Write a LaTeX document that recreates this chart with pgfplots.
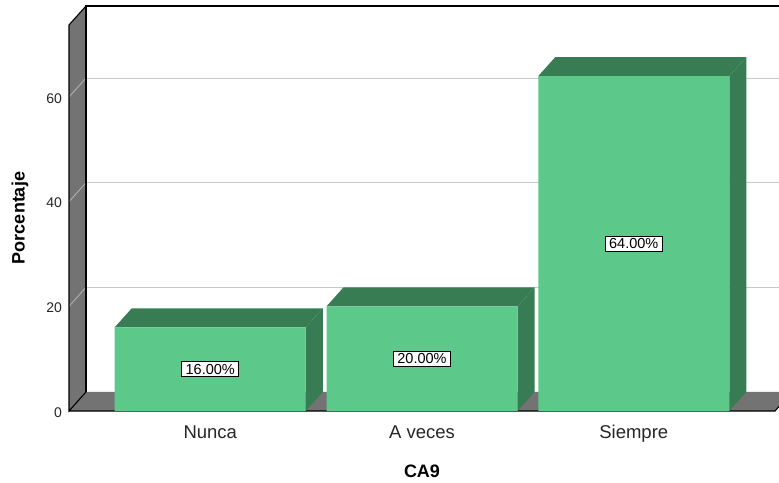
\documentclass[border=0pt]{standalone}
\usepackage{fontspec}
\setmainfont{Liberation Sans}
\usepackage{pgfplots}
\usepackage{pgfplotstable}
\pgfplotsset{compat=1.18}
\definecolor{barfront}{RGB}{92,201,139}
\definecolor{bardark}{RGB}{56,124,84}
\definecolor{wallgray}{RGB}{115,115,115}
\definecolor{gridgray}{RGB}{200,200,200}
\definecolor{gridwall}{RGB}{175,175,175}

\pgfplotstableread{
x y
0 16
1 20
2 64
}\bardata

\def\dX{0.0803}
\def\dY{3.631}
\def\hw{0.451}
\def\XMIN{-0.667}
\def\XMAX{2.667}
\def\YMAX{73.76}
\def\XMINb{-0.5867}
\def\XMAXb{2.7473}
\def\YMAXb{77.391}

\begin{document}
\begin{tikzpicture}
\begin{axis}[
  at={(69pt,71pt)}, anchor=south west,
  scale only axis, width=706pt, height=386pt,
  xmin=\XMIN, xmax=\XMAX, ymin=0, ymax=\YMAX,
  clip=false,
  axis line style={draw=none},
  major tick style={draw=none}, minor tick style={draw=none},
  xtick={0,1,2}, xticklabels={Nunca,A veces,Siempre},
  ytick={0,20,40,60},
  /pgf/number format/assume math mode=true,
  xticklabel style={font=\fontsize{18.5}{20}\selectfont, anchor=base, yshift=-27pt, text=black!85},
  yticklabel style={font=\fontsize{14}{15}\selectfont, anchor=east, xshift=-3.5pt, yshift=-1.5pt, text=black!85},
  xlabel={CA9}, ylabel={Porcentaje},
  xlabel style={font=\bfseries\fontsize{18}{20}\selectfont, at={(axis description cs:0.5,0)}, anchor=base, yshift=-66pt},
  ylabel style={font=\bfseries\fontsize{18}{20}\selectfont, at={(axis description cs:-0.0694,0.5)}, anchor=center, rotate=0},
]
% left wall
\fill[wallgray] (\XMIN,0) -- (\XMIN,\YMAX) -- (\XMINb,\YMAXb) -- (\XMINb,\dY) -- cycle;
% grid lines
\draw[gridwall, line width=0.9pt] (\XMIN,20) -- (\XMINb,23.631);
\draw[gridwall, line width=0.9pt] (\XMIN,40) -- (\XMINb,43.631);
\draw[gridwall, line width=0.9pt] (\XMIN,60) -- (\XMINb,63.631);
\draw[gridgray, line width=0.9pt] (\XMINb,23.631) -- (\XMAXb,23.631);
\draw[gridgray, line width=0.9pt] (\XMINb,43.631) -- (\XMAXb,43.631);
\draw[gridgray, line width=0.9pt] (\XMINb,63.631) -- (\XMAXb,63.631);
% floor
\fill[wallgray] (\XMIN,0) -- (\XMAX,0) -- (\XMAXb,\dY) -- (\XMINb,\dY) -- cycle;
% outlines
\draw[black, line width=1.1pt] (\XMINb,\dY) -- (\XMINb,\YMAXb) -- (\XMAXb,\YMAXb);
\draw[black, line width=1.1pt] (\XMINb,\dY) -- (\XMIN,0) -- (\XMIN,\YMAX) -- (\XMINb,\YMAXb);
\draw[black, line width=1.1pt] (\XMIN,0) -- (\XMAX,0) -- (\XMAXb,\dY);
% 3D faces of bars
\pgfplotsinvokeforeach{0,1,2}{
  \pgfplotstablegetelem{#1}{y}\of\bardata
  \pgfmathsetmacro\hA{\pgfplotsretval}
  \pgfmathsetmacro\hB{\hA+\dY}
  \pgfmathsetmacro\xA{#1-\hw}
  \pgfmathsetmacro\xB{#1+\hw}
  \pgfmathsetmacro\xC{#1+\hw+\dX}
  \pgfmathsetmacro\xD{#1-\hw+\dX}
  \edef\temp{\noexpand\addplot[fill=bardark, draw=none, forget plot] coordinates {(\xA,\hA) (\xB,\hA) (\xC,\hB) (\xD,\hB) (\xA,\hA)};
    \noexpand\addplot[fill=bardark, draw=none, forget plot] coordinates {(\xB,0) (\xC,\dY) (\xC,\hB) (\xB,\hA) (\xB,0)};}
  \temp
}
% front faces
\addplot[ybar, bar width=191pt, fill=barfront, draw=none] table[x=x,y=y]{\bardata};
% labels
\addplot[draw=none, mark=none, point meta=explicit,
  nodes near coords={\pgfmathprintnumber[fixed,fixed zerofill,precision=2]{\pgfplotspointmeta}\%},
  every node near coord/.append style={anchor=center, draw=black, fill=white, text=black,
    font=\fontsize{14.5}{16}\selectfont, inner xsep=4pt, inner ysep=2.4pt, line width=0.7pt}]
  table[x=x, y expr=\thisrow{y}/2, meta=y]{\bardata};
\end{axis}
\pgfresetboundingbox
\path[use as bounding box] (0,0) rectangle (779pt,482pt);
\end{tikzpicture}
\end{document}
